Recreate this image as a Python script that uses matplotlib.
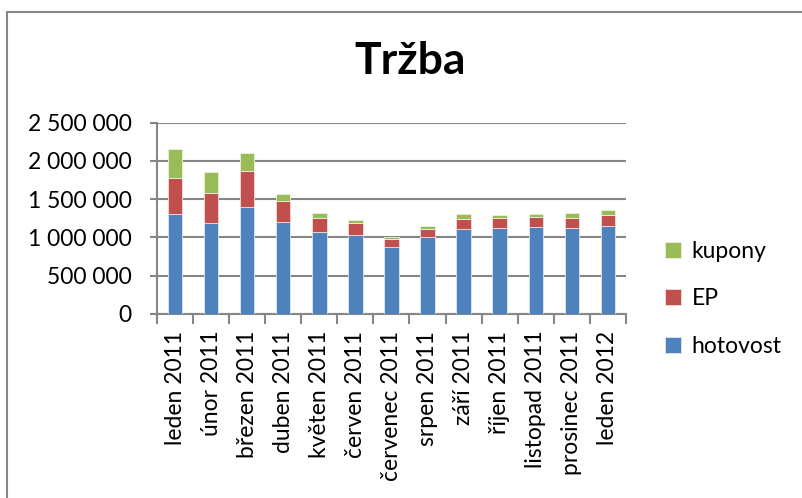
import matplotlib.pyplot as plt
import numpy as np
from matplotlib.patches import Rectangle
from matplotlib.ticker import FuncFormatter

months = ["leden 2011", "únor 2011", "březen 2011", "duben 2011", "květen 2011",
          "červen 2011", "červenec 2011", "srpen 2011", "září 2011", "říjen 2011",
          "listopad 2011", "prosinec 2011", "leden 2012"]
# values (cumulative tops converted to segments)
hotovost = [1305000, 1183000, 1393000, 1196000, 1078000, 1030000, 869000,
            1000000, 1113000, 1126000, 1135000, 1126000, 1152000]
ep = [467000, 401000, 471000, 283000, 179000, 161000, 113000,
      113000, 130000, 131000, 135000, 131000, 144000]
kupony = [380000, 267000, 235000, 88000, 61000, 39000, 22000,
          39000, 62000, 35000, 39000, 61000, 61000]

c_blue = "#4F81BD"
c_red = "#C0504D"
c_green = "#9BBB59"
grid_c = "#868686"
fs = 16.5

plt.rcParams['font.family'] = ['Lato', 'DejaVu Sans']

fig = plt.figure(figsize=(8.03, 4.98), dpi=100)
ax = fig.add_axes([0.1955, 0.3695, 0.584, 0.3841])

x = np.arange(len(months))
w = 0.4
ax.bar(x, hotovost, w, color=c_blue, edgecolor="#dce6f2", linewidth=0.6, label="hotovost", zorder=3)
ax.bar(x, ep, w, bottom=hotovost, color=c_red, edgecolor="#f2dcdb", linewidth=0.6, label="EP", zorder=3)
bottom2 = np.array(hotovost) + np.array(ep)
ax.bar(x, kupony, w, bottom=bottom2, color=c_green, edgecolor="#ebf1de", linewidth=0.6, label="kupony", zorder=3)

ax.set_xlim(-0.5, len(months) - 0.5)
ax.set_ylim(0, 2500000)
ax.set_yticks(np.arange(0, 2500001, 500000))
ax.yaxis.set_major_formatter(FuncFormatter(lambda v, p: f"{int(v):,}".replace(",", " ")))
ax.yaxis.grid(True, color=grid_c, linewidth=1.5, zorder=0)

ax.set_xticks(x)
ax.set_xticklabels(months, rotation=90, fontsize=fs)
ax.set_xticks(np.arange(-0.5, len(months)), minor=True)
ax.tick_params(axis="x", which="major", length=0, pad=12)
ax.tick_params(axis="x", which="minor", length=7, width=1.5, color=grid_c)
ax.tick_params(axis="y", length=5, width=1.5, color=grid_c, labelsize=fs, pad=13)

for s in ["top", "right"]:
    ax.spines[s].set_visible(False)
for s in ["left", "bottom"]:
    ax.spines[s].set_color(grid_c)
    ax.spines[s].set_linewidth(1.5)

fig.text(0.511, 0.878, "Tržba", ha="center", va="center", fontsize=32, fontweight="bold")

h, l = ax.get_legend_handles_labels()
fig.legend(h[::-1], l[::-1], loc="center left", bbox_to_anchor=(0.803, 0.4),
           frameon=False, fontsize=fs, handlelength=0.7, handleheight=0.7,
           handletextpad=0.45, labelspacing=1.15)

# outer chart frame
fig.patches.append(Rectangle((7 / 803, -0.1), 1.2, 1 - 12 / 498 + 0.1,
                             transform=fig.transFigure, fill=False,
                             edgecolor="#878787", linewidth=1.5))

fig.savefig("out.png", dpi=100)
